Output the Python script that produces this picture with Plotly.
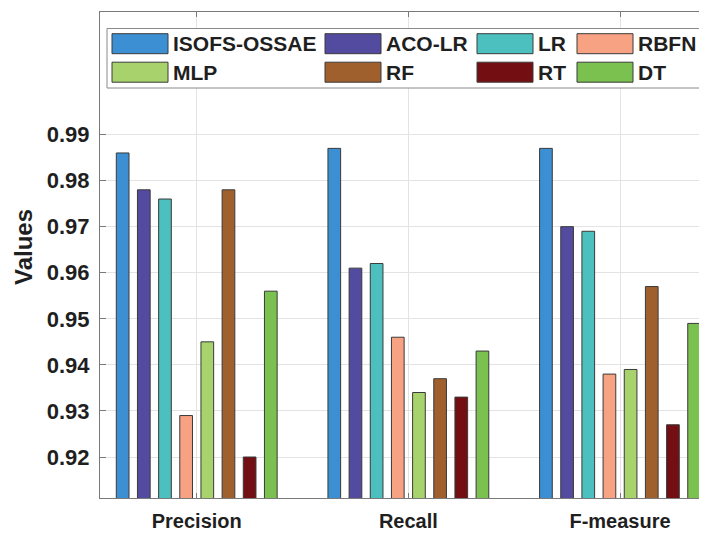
import plotly.graph_objects as go

categories = ["Precision", "Recall", "F-measure"]
methods = ["ISOFS-OSSAE", "ACO-LR", "LR", "RBFN", "MLP", "RF", "RT", "DT"]
colors = ["#3C8FD2", "#534B9F", "#4CC0BF", "#F7A283", "#A8D26B", "#A0602E", "#730F13", "#7AC150"]

isofs_ossae = [0.986, 0.987, 0.987]
aco_lr = [0.978, 0.961, 0.970]
lr = [0.976, 0.962, 0.969]
rbfn = [0.929, 0.946, 0.938]
mlp = [0.945, 0.934, 0.939]
rf = [0.978, 0.937, 0.957]
rt = [0.920, 0.933, 0.927]
dt = [0.956, 0.943, 0.949]
series = [isofs_ossae, aco_lr, lr, rbfn, mlp, rf, rt, dt]

y_ticks = [0.92, 0.93, 0.94, 0.95, 0.96, 0.97, 0.98, 0.99]
y_tick_labels = ["0.92", "0.93", "0.94", "0.95", "0.96", "0.97", "0.98", "0.99"]

# page has an 8px body margin; figure is sized so it ends at the window edge
OFF = 8
W, H = 699, 526
ML, MR, MT, MB = 92, 0, 4, 36
PW, PH = W - ML - MR, H - MT - MB

def px(x):
    return (x - OFF - ML) / PW

def py(y):
    return (H - MB - (y - OFF)) / PH

FONT = "Liberation Sans, Arial, sans-serif"
TXT = "#1f1f1f"

fig = go.Figure()
for name, vals, col in zip(methods, series, colors):
    fig.add_trace(go.Bar(
        x=[0, 1, 2], y=vals, name=name,
        marker=dict(color=col, line=dict(color="#3a3a3a", width=1)),
        showlegend=False,
    ))

# custom legend (2 rows x 4 columns)
shapes = [dict(type="rect", xref="paper", yref="paper",
               x0=px(107), x1=px(701), y0=py(88), y1=py(28.5),
               line=dict(color="#8a8a8a", width=1), fillcolor="white", layer="above")]
annotations = []
col_sw_x = [112, 325, 477, 577]
row_y = [43.7, 72.2]
sw_w, sw_h = 56, 20
for i, (name, col) in enumerate(zip(methods, colors)):
    r, c = divmod(i, 4)
    x0 = col_sw_x[c]
    yc = row_y[r]
    shapes.append(dict(type="rect", xref="paper", yref="paper",
                       x0=px(x0), x1=px(x0 + sw_w), y0=py(yc + sw_h / 2), y1=py(yc - sw_h / 2),
                       line=dict(color="#3a3a3a", width=1), fillcolor=col, layer="above"))
    annotations.append(dict(xref="paper", yref="paper", x=px(x0 + sw_w + 3), y=py(yc),
                            xanchor="left", yanchor="middle", showarrow=False, text=name,
                            font=dict(family=FONT, size=21, color=TXT, weight="bold")))

annotations.append(dict(xref="paper", yref="paper", x=px(24), y=py(247), textangle=-90,
                        xanchor="center", yanchor="middle", showarrow=False, text="Values",
                        font=dict(family=FONT, size=24, color=TXT, weight="bold")))

fig.update_layout(
    width=W, height=H,
    margin=dict(l=ML, r=MR, t=MT, b=MB, pad=0, autoexpand=False),
    barmode="group", bargap=0.2, bargroupgap=0.4,
    plot_bgcolor="white", paper_bgcolor="white",
    shapes=shapes, annotations=annotations,
    font=dict(family=FONT, color=TXT),
)
fig.update_xaxes(
    range=[-0.457, 2.411], tickvals=[0, 1, 2], ticktext=categories,
    showgrid=True, gridcolor="#e3e3e3", gridwidth=1,
    showline=True, linecolor="#7a7a7a", linewidth=1, mirror="ticks",
    ticks="inside", ticklen=5, tickcolor="#7a7a7a",
    tickfont=dict(family=FONT, size=20, color=TXT, weight="bold"),
    ticklabelstandoff=5, zeroline=False,
)
fig.update_yaxes(
    range=[0.9111, 1.0166], tickvals=y_ticks, ticktext=y_tick_labels,
    showgrid=True, gridcolor="#e3e3e3", gridwidth=1,
    showline=True, linecolor="#7a7a7a", linewidth=1, mirror="ticks",
    ticks="inside", ticklen=6, tickcolor="#7a7a7a",
    tickfont=dict(family=FONT, size=22, color=TXT, weight="bold"),
    ticklabelstandoff=5, zeroline=False,
)

fig.write_html("out.html")
